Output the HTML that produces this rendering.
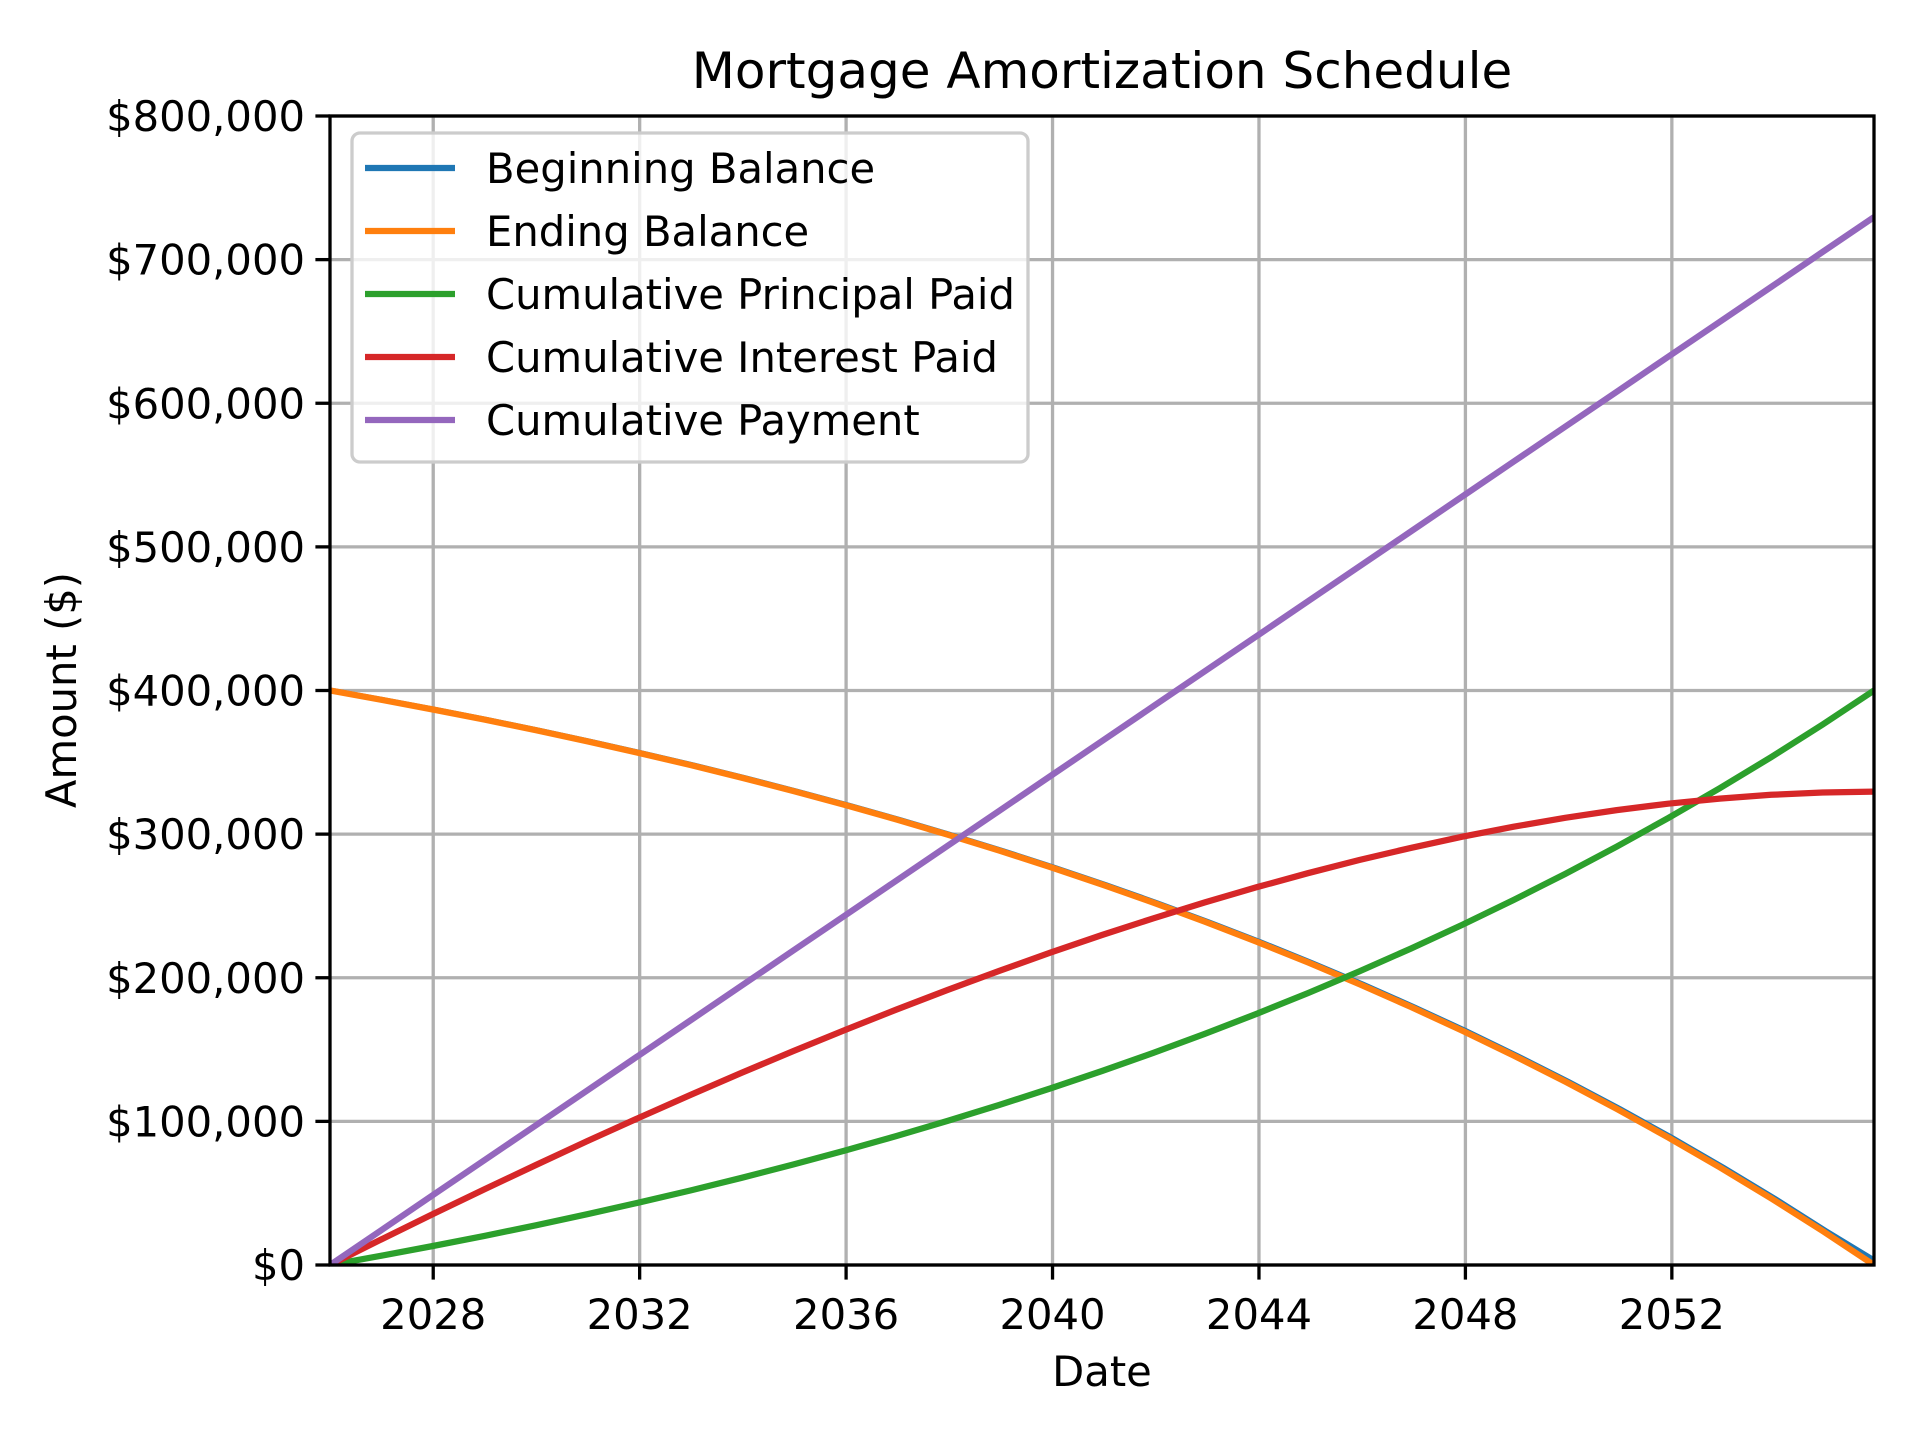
<!DOCTYPE html>
<html><head><meta charset="utf-8"><title>Mortgage Amortization Schedule</title>
<style>html,body{margin:0;padding:0;background:#fff}svg{display:block;font-family:"DejaVu Sans","Liberation Sans",sans-serif}</style>
</head><body>
<svg id="chart" width="1920" height="1440" viewBox="0 0 1920 1440" xmlns="http://www.w3.org/2000/svg">
<rect width="1920" height="1440" fill="#fff"/>
<text x="1102" y="88" font-size="50" text-anchor="middle">Mortgage Amortization Schedule</text>
<g id="grid"></g>
<g id="series" clip-path="url(#clip)"></g>
<defs><clipPath id="clip"><rect x="330" y="116" width="1544" height="1149"/></clipPath></defs>
<g id="axes"></g>
<text x="1102" y="1386" font-size="41.7" text-anchor="middle">Date</text>
<text transform="translate(76,690) rotate(-90)" font-size="41.7" text-anchor="middle">Amount ($)</text>
<g id="legend"></g>
</svg>
<script>
const yearIndex = [0,1,2,3,4,5,6,7,8,9,10,11,12,13,14,15,16,17,18,19,20,21,22,23,24,25,26,27,28,29,30];
const endingBalance = [400000,393547,386796,379740,372356,364632,356553,348105,339268,330024,320358,310247,299669,288607,277037,264934,252276,239037,225188,210705,195556,179710,163137,145802,127671,108707,88872,68124,46425,23729,0];
const beginningBalance = [400000,393547,386796,379740,372356,364632,356553,348105,339268,330024,320358,310247,299669,288607,277037,264934,252276,239037,225188,210705,195556,179710,163137,145802,127671,108707,88872,68124,46425,23729,2028];
const cumPrincipal = [0,6453,13204,20260,27644,35368,43447,51895,60732,69976,79642,89753,100331,111393,122963,135066,147724,160963,174812,189295,204444,220290,236863,254198,272329,291293,311128,331876,353575,376271,400000];
const cumPayment = [0,24320,48640,72960,97280,121600,145920,170240,194560,218880,243200,267520,291840,316160,340480,364800,389120,413440,437760,462080,486400,510720,535040,559360,583680,608000,632320,656640,680960,705280,729600];
const cumInterest = [0,17867,35436,52700,69636,86232,102473,118345,133828,148904,163558,177767,191509,204767,217517,229734,241396,252477,262948,272785,281956,290430,298177,305162,311351,316707,321192,324764,327385,329009,329600];
const xTicks = [2028,2032,2036,2040,2044,2048,2052];
const yTicks = [0,100000,200000,300000,400000,500000,600000,700000,800000];
const yTickLabels = ["$0","$100,000","$200,000","$300,000","$400,000","$500,000","$600,000","$700,000","$800,000"];
const seriesNames = ["Beginning Balance","Ending Balance","Cumulative Principal Paid","Cumulative Interest Paid","Cumulative Payment"];

const NS="http://www.w3.org/2000/svg";
const X0=330,X1=1874,Y0=1265,Y1=116,D0=2026.0,D1=2055.917;
function xs(d){return X0+(d-D0)/(D1-D0)*(X1-X0);}
function ys(v){return Y0-(v/800000)*(Y0-Y1);}
function dateOf(k){return D0+k*(D1-D0)/30;}
function mk(tag,attrs,parent){const e=document.createElementNS(NS,tag);for(const k in attrs)e.setAttribute(k,attrs[k]);parent.appendChild(e);return e;}
const grid=document.getElementById('grid'),axes=document.getElementById('axes'),ser=document.getElementById('series'),leg=document.getElementById('legend');
xTicks.forEach(t=>{const x=xs(t);
 const g=mk('line',{x1:x,x2:x,y1:Y1,y2:Y0,stroke:'#b0b0b0','stroke-width':3.3},grid);
 
 
 const tk=mk('line',{x1:x,x2:x,y1:Y0,y2:Y0+14.6,stroke:'#000','stroke-width':3.3},axes);
 
 
 const tl=mk('text',{x:x,y:Y0+64,'font-size':41.7,'text-anchor':'middle'},axes);tl.textContent=t;
 
 
});
yTicks.forEach((v,i)=>{const y=ys(v);
 const g=mk('line',{x1:X0,x2:X1,y1:y,y2:y,stroke:'#b0b0b0','stroke-width':3.3},grid);
 
 
 const tk=mk('line',{x1:X0-14.6,x2:X0,y1:y,y2:y,stroke:'#000','stroke-width':3.3},axes);
 
 
 const tl=mk('text',{x:X0-25,y:y+15,'font-size':41.7,'text-anchor':'end'},axes);tl.textContent=yTickLabels[i];
 
 
});
const frame=mk('rect',{x:X0,y:Y1,width:X1-X0,height:Y0-Y1,fill:'none',stroke:'#000','stroke-width':3.3},axes);


const colors=['#1f77b4','#ff7f0e','#2ca02c','#d62728','#9467bd'];
const data=[beginningBalance,endingBalance,cumPrincipal,cumInterest,cumPayment];
const shifts=[1/12,0,0,0,0];
const widths=[4.5,6.25,6.25,6.25,6.25];
const names=['line-beginning-balance','line-ending-balance','line-cumulative-principal','line-cumulative-interest','line-cumulative-payment'];
data.forEach((arr,s)=>{
 const pts=yearIndex.map((k,i)=>xs(dateOf(k)+shifts[s]).toFixed(1)+','+ys(arr[i]).toFixed(1)).join(' ');
 const p=mk('polyline',{points:pts,fill:'none',stroke:colors[s],'stroke-width':widths[s],'stroke-linejoin':'round'},ser);
 
 
});
const box=mk('rect',{x:352,y:133,width:676,height:329,rx:8,fill:'#fff','fill-opacity':0.8,stroke:'#cccccc','stroke-width':3.3},leg);


seriesNames.forEach((n,i)=>{const y=168+i*63;
 const g=mk('g',{},leg);
 
 
 mk('line',{x1:365,x2:455,y1:y,y2:y,stroke:colors[i],'stroke-width':6.25},g);
 const t=mk('text',{x:486,y:y+15,'font-size':41.7},g);t.textContent=n;
});
</script>
</body></html>
